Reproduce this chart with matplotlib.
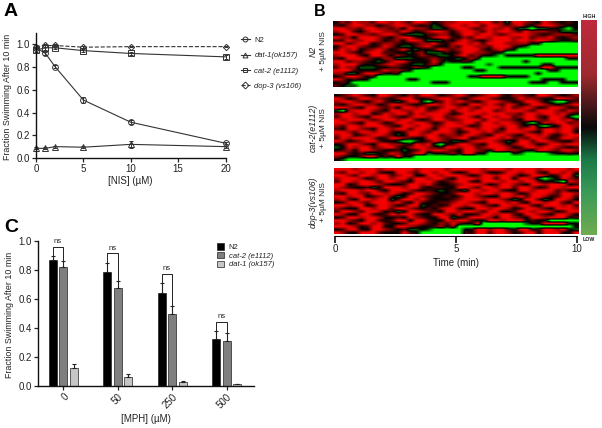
import numpy as np
import matplotlib
matplotlib.use("Agg")
import matplotlib.pyplot as plt
from matplotlib.colors import LinearSegmentedColormap
from matplotlib.lines import Line2D

plt.rcParams['font.family'] = ['Liberation Sans', 'DejaVu Sans']
plt.rcParams['text.color'] = '#222222'
plt.rcParams['axes.labelcolor'] = '#222222'

# ---------- panel A data
nis_dose = [0, 1, 2, 5, 10, 20]
n2_frac = [0.97, 0.92, 0.805, 0.51, 0.315, 0.13]
n2_err = [0.01, 0.01, 0.015, 0.025, 0.02, 0.01]
dat1_frac = [0.085, 0.085, 0.10, 0.095, 0.12, 0.10]
dat1_err = [0.01, 0.01, 0.01, 0.01, 0.03, 0.01]
cat2_frac = [0.95, 0.97, 0.97, 0.945, 0.92, 0.89]
cat2_err = [0.02, 0.02, 0.015, 0.015, 0.015, 0.015]
dop3_frac = [0.98, 0.99, 0.99, 0.975, 0.98, 0.98]
dop3_err = [0.01, 0.01, 0.01, 0.01, 0.005, 0.005]
nis_xticks = [0, 5, 10, 15, 20]
nis_yticks = [0.0, 0.2, 0.4, 0.6, 0.8, 1.0]

# ---------- panel C data
mph_labels = ['0', '50', '250', '500']
mph_n2 = [0.865, 0.785, 0.64, 0.32]
mph_n2_err = [0.03, 0.06, 0.065, 0.055]
mph_cat2 = [0.82, 0.67, 0.495, 0.31]
mph_cat2_err = [0.04, 0.05, 0.055, 0.05]
mph_dat1 = [0.12, 0.06, 0.025, 0.01]
mph_dat1_err = [0.03, 0.02, 0.005, 0.003]
ns_top = [0.955, 0.913, 0.77, 0.44]
ns_left = [0.90, 0.845, 0.705, 0.375]
ns_right = [0.86, 0.72, 0.55, 0.36]

# ---------- panel B data: coarse reading of each heat map, row by row
# G green, g dim green, k black, d dark red, r red, R bright red
heat_n2 = """
krdRrrdRRr RrdRRrkdrr RRRrRRdrgR RrdkRrdkdk
dkrRRrrkdr RRrdkdgkrR RrRRdRRrdr RdkrRRrdkk
RRrrdRRrrd rkRrrdggkr RRrdrRrrRd ggGggkkgGk
rRRdkrRRrr dRrkdrRRrk rRRrdRrRRr dRrrrddggg
kdRRrrdrRR rkgggddrrk dRRrRRrdrR RRrdkdrrrd
RrrkRRRrdk rRRdkkrRRd krdRRrRRRr rRdrrRdkdr
ddRrrRRrkd rkRRrgggdk rRrdkrRRRr RRrRRrdkkd
RRdrRRkdrr dkkdrrRdkr RRrRdRRRrr rrkkGGGGGG
krRRrdkdRr kggdrRdkkr dRRrrdRRRd kgGGGGGGGG
dRrRkdrRrk dRdgkkdRrd rRRRdkrRdk GGGGGGGGGG
RRrdkrRRdd kkgdrgggdk dRRrrdkkGG GGGGGGGGGG
rRRRdkRRrk rdkkrdkggk rRdrkkgGkk kkkRRRRRRR
dkRRRrdkrr gggkkdrdkk gkrdGGGGGG GGGGGGGGkk
RRdrrdkgkr RRdkkkRdgk kdkGGGGGGG GkGGGGGGGG
rRRRdkkdrR rdkggdrkGG GGGGGgGGGG GGGGkkGGGG
dRrrgggkkd dkkrdkGGGG GkkGGGGkkk kkkkRRkkkk
RRRdkkkdRr rdkGGGGGGG GGGkkGGGGG GGGGGkkGGG
rrggdRRrkk dGGGGGGGGG GGGGGGGGGG GGGkGGGGGG
kdRRrkdGGG GGGGGGGGGG GGkkRRRRkk kkGGGGGGGG
RrkdkkGGGG GGkkGGGGGG GGGGGGGGGG GGGGkkkkGG
kdkGGGGGGG GGGGGGkkkG GGGGGGGGGG GGkkkGGkkk
dkggGGGGGG GGGGGGGGGG GGGGGGGGGG GGGGGGGGGG
"""
heat_cat2 = """
kdrRrdkRRr dkrdRRrkdr RrkdrRRdkr rdkRRrdkdr
RrkdRRrrdk rRRdkdrRRr dkrRRrdkkd RrrdkkRRrd
rRRrdkrRdk gdRRgGkdRr RrdkrRRrdk dRRrkgGGkd
dkrRRrrkdR RrdkdRRrRr dkRRrRrdRr kdRRrdkdrR
RRrdkRRrdr kRRrRdkrRR rRrdRRRrRd rRrkdRRrkd
gGrRRRrdkR RrrRRdrRRd RRrRRRdrRR RrdRRRrdRr
rRRrRRkdRr RRdRrRRRrk dRRRrRRRrr dRRrRRrRdk
dRRrdkRRRr dkrRRrRRdr RRrkRRrRRd rRRdkRRrgG
RrRRRrdrRR rRRdkdRRrd rRRRdRRrrd kRRrdRRrRd
RRrdkRRrkd RRrRRrkdRR rRRdRRrRRr dgGkRrRRdr
rdRRrRRRrd kRRrRRdrRR RrkdRRRrRR dkRgGgkRRr
dkRRrdkRRr RRdRRrkRRr dRRrRRrkRR rRRdRRrRRd
RRrdRRrRRd kdRRrdRRRr kdRRrRdrRR RrdkRRrRRk
rRRkdrRRrd gkRRrRRdrr dRRrdkRRrd kRRrRdkrRR
dRrRRRrkdR RrdkkRRrdr RRkdrRRrRd rdRRrkdRRr
RrkdrRRdkk gGGgkdRrdg gkrRRRrdgk RRdRRrdkkr
kdRRrdkRRr rdkRrRgGkd RRrdkRRrkr RRrkdRRrRR
gkRrRRdrRR dkrRRrdkRR rRRdrRRRrk dRRrRRrdkd
kdrkRRrdkk dgkdRrRRrd kRRrdkRRrr dkkRRrdRRr
RRdkdggkdR rkdRRgkkdr kRRkkGGGGk gGGGGgkkdk
rdkkdRRkdk RkkGGGGGGG GGGGGGGGGG GGGGGGGGGG
kgGGGGGGGG GGGGGGGGGG GGGGGGGGGG GGGGGGGGGG
"""
heat_dop3 = """
RRRrRRRrRR RRRrRRRRrR RRRRrRRRrR RRRrRRRRrR
rdRRrRRdkk RRrdRRrRRd kdRRrkkdRR rRRdkRRrRd
RRrdRRrRRd rRRkkRRrRR RrkdRRrRRr kdRRrkdRRg
rRRRrkdRRr RRdRRrRRdk RRRrRRdRRk RRrgGgkRrd
dRRrRRrdRR rdkRRRrkdr RRdkRRRrRR rRRdkkgGRr
RRkdRRRrdk kdRRrRdkkd rRRRrkdRRr dkRRrRRRkd
RrdkkdgkRR RrRRdkddkk RRrdRRrRRd RRrkdRRrRR
rRRRrRRdkR RRrdkdkgkd kgRRrRRdkk RRrRRRdrkk
dkRRrdRRrR rkdRRrdkkd RRRrRRrRRr kdRRRrdRRr
RRrRRkdrRd gkRRrdkkdk dRRrdkkRRr RdRRrkdRRd
rRdkRRrRRg dRRrRdkkkd rRRRrRRrdg kRRdgkRRrk
kdRRrdRRRr RdkRdkkddr RRrdkRRRrR dkRRrRRdkR
RRrRRkdRRr kdRRgkdkdR RrRRrdkRRr RRdkRRRrRd
rdkkRRrRRd RRrdkdkrRR dkkRRrRRrk dRRrdkRRRr
dRRrdRRrkd gkRRrddkRR rRRrdRRkkd RRrRRrkdRR
RrkkRRdkdR rRRdkkRRrd RkkdRRrRRd kRRrdkRRrk
kdRRrRRrkk dkRrdkkRRg kdRRRrkRRr dkRRrRRRkd
RRrdkRRdkd RRkRRdkkRr RRdkkRRrRR RkdkkGGGGG
rRkdRRrRdk kdRRrdkrdR dkkRGGGGGG GgkkRRRRkk
RRRrkdRRkk RRrdkkdrkr GGGGGGGGGG GGGGGGGGGk
kdRRkkRRrd kdggkgGGGG GkkRRrRRdk RRkdRRrRkg
RrkkRRRdkk kRdkGGGGGG GdkRRdRRrk dRRkRRRkkR
"""
heat_levels = {'G': -1.0, 'g': -0.3, 'k': 0.05, 'd': 0.3, 'r': 0.62, 'R': 0.95}
time_ticks = [0, 5, 10]

W, H = 602, 428
fig = plt.figure(figsize=(W / 100, H / 100), dpi=100, facecolor='white')


def px_axes(x0, y0, x1, y1):
    """Axes from a pixel box, y counted from the top of the figure."""
    return fig.add_axes([x0 / W, 1 - y1 / H, (x1 - x0) / W, (y1 - y0) / H])


def style(ax):
    for s in ('top', 'right'):
        ax.spines[s].set_visible(False)
    for s in ('left', 'bottom'):
        ax.spines[s].set_linewidth(1.0)
        ax.spines[s].set_color('#111111')
    ax.tick_params(length=3, width=0.9, labelsize=7, colors='#222222', pad=1.5)


# ---------- A
axA = px_axes(36, 33, 225.5, 158)
style(axA)
axA.set_xlim(0, 20)
axA.set_ylim(0, 1.1)
series = [
    (n2_frac, n2_err, 'o', '-', 'N2', 'normal'),
    (dat1_frac, dat1_err, '^', '-', 'dat-1(ok157)', 'italic'),
    (cat2_frac, cat2_err, 's', '-', 'cat-2 (e1112)', 'italic'),
    (dop3_frac, dop3_err, 'D', '--', 'dop-3 (vs106)', 'italic'),
]
for vals, err, m, ls, lab, _ in series:
    axA.errorbar(nis_dose, vals, yerr=err, color='#333333', lw=0.8, ls=ls,
                 marker=m, ms=3.2 if m == 'D' else 4.2, mfc='none', mew=0.7,
                 elinewidth=0.7, capsize=1.5, capthick=0.7, clip_on=False, label=lab)
axA.set_xticks(nis_xticks)
axA.set_yticks(nis_yticks)
axA.set_xlabel('[NIS] (µM)', fontsize=7, labelpad=1)
axA.set_ylabel('Fraction Swimming After 10 min', fontsize=6.4, labelpad=3, y=0.49)
handles = [Line2D([], [], color='#333333', lw=0.8, marker=s[2], ms=3.5, mfc='none', mew=0.7,
                  ls=s[3]) for s in series]
legA = fig.legend(handles, [s[4] for s in series], loc='upper left',
                  bbox_to_anchor=(240.5 / W, 1 - 36.5 / H), frameon=False,
                  fontsize=5.5, labelspacing=1.05, handlelength=1.2, handletextpad=0.6,
                  borderpad=0, borderaxespad=0)
for t, s in zip(legA.get_texts(), series):
    t.set_style(s[5])

# ---------- C
axC = px_axes(38, 240.7, 254, 385.5)
style(axC)
centers = np.arange(len(mph_labels))
bar_w = 0.147
off = 0.195
axC.set_xlim(-0.465, 3.505)
axC.set_ylim(0, 1.0)
err_kw = dict(elinewidth=0.8, capsize=1.6, capthick=0.8, ecolor='#222222')
for i, (vals, err, col, lab) in enumerate([
        (mph_n2, mph_n2_err, '#000000', 'N2'),
        (mph_cat2, mph_cat2_err, '#7f7f7f', 'cat-2 (e1112)'),
        (mph_dat1, mph_dat1_err, '#c6c6c6', 'dat-1 (ok157)')]):
    axC.bar(centers + (i - 1) * off, vals, bar_w, color=col, edgecolor='#222222', lw=0.5,
            yerr=[np.zeros(len(err)), err], error_kw=err_kw, label=lab)
for c, t, l, r in zip(centers, ns_top, ns_left, ns_right):
    axC.plot([c - off, c - off, c, c], [l, t, t, r], color='#222222', lw=0.7, clip_on=False)
    axC.text(c - off / 2, t + 0.012, 'ns', ha='center', va='bottom', fontsize=5.5)
axC.set_xticks(centers)
axC.set_xticklabels(mph_labels, rotation=45, ha='right', rotation_mode='anchor')
axC.set_yticks(nis_yticks)
axC.set_xlabel('[MPH] (µM)', fontsize=7, labelpad=3)
axC.set_ylabel('Fraction Swimming After 10 min', fontsize=6.4, labelpad=3, y=0.485)
legC = axC.legend(loc='upper left', bbox_to_anchor=((216.5 - 38) / 216, 1 - 2.5 / 144.8), frameon=False,
                  fontsize=5.5, labelspacing=0.12, handlelength=1.0, handleheight=0.9,
                  handletextpad=0.6, borderpad=0, borderaxespad=0)
for t in legC.get_texts()[1:]:
    t.set_style('italic')

# ---------- B
heat_cmap = LinearSegmentedColormap.from_list('gkr', ['#00ff00', '#000000', '#ff0000'])


def parse(block):
    rows = [r.replace(' ', '') for r in block.strip().splitlines()]
    n = max(len(r) for r in rows)
    return np.array([[heat_levels[c] for c in r.ljust(n, r[-1])] for r in rows])


boxes = [(333, 21, 578, 87), (334, 94, 579, 161), (334, 168, 579, 234)]
for block, box in zip([heat_n2, heat_cat2, heat_dop3], boxes):
    ax = px_axes(*box)
    ax.imshow(parse(block), aspect='auto', cmap=heat_cmap, vmin=-1, vmax=1,
              interpolation='bilinear', extent=(0, 10, 0, 1))
    ax.axis('off')

axT = px_axes(335, 235, 577, 236)
axT.set_xlim(0, 10)
axT.set_yticks([])
for s in ('top', 'left', 'right'):
    axT.spines[s].set_visible(False)
axT.patch.set_alpha(0)
axT.spines['bottom'].set_linewidth(0.8)
axT.set_xticks(time_ticks)
axT.tick_params(axis='x', length=5, width=1.3, labelsize=7, pad=0.5, colors='#222222')
axT.set_xlabel('Time (min)', fontsize=7, labelpad=3.5)

bar_cmap = LinearSegmentedColormap.from_list(
    'bar', [(0, '#be2a3c'), (0.25, '#a02a30'), (0.5, '#0a0a0a'),
            (0.65, '#1c7a48'), (0.8, '#3a9a58'), (1, '#6fab50')])
axB = px_axes(581, 20, 597, 235)
axB.imshow(np.linspace(0, 1, 256)[:, None], aspect='auto', cmap=bar_cmap)
axB.axis('off')
fig.text(589 / W, 1 - 16 / H, 'HIGH', ha='center', va='center', fontsize=3.8, fontweight='bold')
fig.text(589 / W, 1 - 239 / H, 'LOW', ha='center', va='center', fontsize=3.8, fontweight='bold')

# row labels beside the heat maps
for y, name, st in [(51, 'N2', 'italic'), (128, 'cat-2(e1112)', 'italic'), (202, 'dop-3(vs106)', 'italic')]:
    fig.text(313.5 / W, 1 - y / H, name, rotation=90, ha='center', va='center', fontsize=6.3, style=st)
    fig.text(323.5 / W, 1 - y / H, '+ 5µM NIS', rotation=90, ha='center', va='center', fontsize=6)

for s, x, y, fs in [('A', 4, 11, 14), ('B', 314, 11, 11.5), ('C', 4, 227, 14)]:
    fig.text(x / W, 1 - y / H, s, fontsize=fs, fontweight='bold', color='black', ha='left', va='center')

fig.savefig('out.png', dpi=100, facecolor='white')
